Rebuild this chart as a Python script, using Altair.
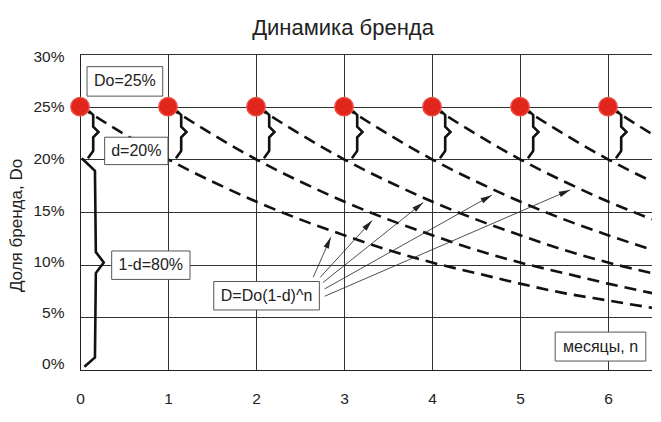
import math
import altair as alt
import pandas as pd

# ---------------- data ----------------
months = [0, 1, 2, 3, 4, 5, 6]
x_max = 6.5
start_share = 25  # Do, %
# share (%) of a brand n months after its launch
decay_offsets = [0, 0.5, 1, 1.5, 2, 2.5, 3, 3.5, 4, 4.5, 5, 5.5, 6, 6.5]
decay_values = [25, 22.4, 20, 17.9, 16, 14.3, 12.8, 11.4, 10.2, 9.2, 8.2, 7.3, 6.6, 5.9]

y_ticks = [0, 5, 10, 15, 20, 25, 30]
# vertical shift of each y tick label as seen in the picture (px)
y_label_shift = [-7, -5, -3, -2, -1, 0, 2]

# small brace next to every red point (offset from the month, share %)
brace_dx = [0.10, 0.15, 0.15, 0.21, 0.15, 0.15, 0.09]
brace_y = [24.6, 24.2, 23.1, 22.6, 22.1, 20.8, 20.1]
# big brace from 20% down to 0%
big_brace_x = [0.02, 0.17, 0.18, 0.27, 0.18, 0.17, 0.05]
big_brace_y = [20.1, 18.9, 11.2, 10.2, 9.2, 1.2, 0.3]

# annotation boxes
box_text = ["Do=25%", "d=20%", "1-d=80%", "D=Do(1-d)^n", "месяцы, n"]
box_x1 = [0.08, 0.28, 0.36, 1.52, 5.40]
box_x2 = [0.94, 1.00, 1.25, 2.72, 6.43]
box_y1 = [26.0, 19.5, 8.6, 5.7, 0.85]
box_y2 = [28.8, 22.1, 11.3, 8.4, 3.6]

# arrows from the formula box to the curves
arrow_x1 = [2.65, 2.73, 2.76, 2.78, 2.78]
arrow_y1 = [8.8, 8.8, 8.3, 7.7, 7.0]
arrow_x2 = [2.85, 3.32, 3.90, 4.68, 5.57]
arrow_y2 = [12.6, 14.2, 15.9, 16.6, 17.1]

# ---------------- layout ----------------
W, H = 572, 316
Y_MAX = 30
FONT = "Liberation Sans"

curve_rows = []
for k in months:
    for o, v in zip(decay_offsets, decay_values):
        if k + o <= x_max + 1e-9:
            curve_rows.append({"k": k, "x": k + o, "y": v, "o": o})
curves = pd.DataFrame(curve_rows)

brace_rows = []
for k in months:
    for i, (dx, yy) in enumerate(zip(brace_dx, brace_y)):
        brace_rows.append({"id": f"b{k}", "x": k + dx, "y": yy, "o": i})
for i, (xx, yy) in enumerate(zip(big_brace_x, big_brace_y)):
    brace_rows.append({"id": "big", "x": xx, "y": yy, "o": i})
braces = pd.DataFrame(brace_rows)

points = pd.DataFrame({"x": months, "y": [start_share] * len(months)})

boxes = pd.DataFrame({
    "t": box_text, "x1": box_x1, "x2": box_x2, "y1": box_y1, "y2": box_y2,
})
boxes["xc"] = (boxes["x1"] + boxes["x2"]) / 2
boxes["yc"] = (boxes["y1"] + boxes["y2"]) / 2

arrows = pd.DataFrame({"x1": arrow_x1, "y1": arrow_y1, "x2": arrow_x2, "y2": arrow_y2})
px_x = W / x_max
px_y = H / Y_MAX
arrows["ang"] = [
    (math.degrees(math.atan2((b - a) * px_x, (d - c) * px_y)) + 360) % 360
    for a, b, c, d in zip(arrows.x1, arrows.x2, arrows.y1, arrows.y2)
]

label_offset = {
    "condition": [{"test": f"datum.value == {v}", "value": s}
                  for v, s in zip(y_ticks, y_label_shift)],
    "value": -3,
}

xscale = alt.Scale(domain=[0, x_max], nice=False, zero=False)
yscale = alt.Scale(domain=[0, Y_MAX], nice=False, zero=False)
xaxis = alt.Axis(values=months, grid=True, ticks=False, title=None, format="d",
                 labelPadding=21, labelFontSize=15.5, labelFont=FONT,
                 labelColor="#222", gridColor="#333", gridWidth=1,
                 domainColor="#222", labelFlush=False)
yaxis = alt.Axis(values=y_ticks, grid=True, ticks=False, title="Доля бренда, Do",
                 labelExpr="datum.value + '%'", labelPadding=16, labelFontSize=15.5,
                 labelFont=FONT, labelColor="#222", labelOffset=label_offset,
                 titleFont=FONT, titleFontSize=17, titleFontWeight="normal",
                 titleColor="#222", titleX=-64, titleY=171, titleAngle=270,
                 titleAlign="center", titleBaseline="middle",
                 gridColor="#333", gridWidth=1, domainColor="#222", labelFlush=False)


def X(f):
    return alt.X(f, type="quantitative", scale=xscale, axis=xaxis)


def Y(f):
    return alt.Y(f, type="quantitative", scale=yscale, axis=yaxis)


curve_layer = alt.Chart(curves).mark_line(
    color="#111", strokeWidth=2.6, strokeDash=[12, 7], interpolate="monotone", clip=True
).encode(x=X("x"), y=Y("y"), detail="k:N", order="o:Q")

brace_layer = alt.Chart(braces).mark_line(
    color="#111", strokeWidth=2.6, strokeJoin="miter"
).encode(x=X("x"), y=Y("y"), detail="id:N", order="o:Q")

arrow_layer = alt.Chart(arrows).mark_rule(color="#222", strokeWidth=0.8).encode(
    x=X("x1"), y=Y("y1"), x2="x2", y2="y2")

head_layer = alt.Chart(arrows).mark_point(
    shape="M0,0L0.5,2L-0.5,2Z", filled=True, color="#222", opacity=1, size=130
).encode(x=X("x2"), y=Y("y2"), angle=alt.Angle("ang:Q", scale=None))

box_layer = alt.Chart(boxes).mark_rect(
    fill="white", stroke="#555", strokeWidth=1
).encode(x=X("x1"), x2="x2", y=Y("y1"), y2="y2")

text_layer = alt.Chart(boxes).mark_text(
    font=FONT, fontSize=16, color="#222", align="center", baseline="middle"
).encode(x=X("xc"), y=Y("yc"), text="t:N")

point_layer = alt.Chart(points).mark_circle(
    size=350, color="#e1261c", opacity=1, stroke="#ee5a4e", strokeWidth=1.2
).encode(x=X("x"), y=Y("y"))

chart = alt.layer(
    curve_layer, brace_layer, box_layer, text_layer, arrow_layer, head_layer, point_layer
).properties(
    width=W, height=H,
    title=alt.TitleParams("Динамика бренда", font=FONT, fontSize=22,
                          fontWeight="normal", color="#222", anchor="middle",
                          dx=-23, offset=9),
    autosize=alt.AutoSizeParams(type="none"),
    padding={"left": 72, "top": 46, "right": 0, "bottom": 40},
).configure_view(stroke="#222", strokeWidth=1)

chart.save("out.html", embed_options={"renderer": "svg", "actions": False})
